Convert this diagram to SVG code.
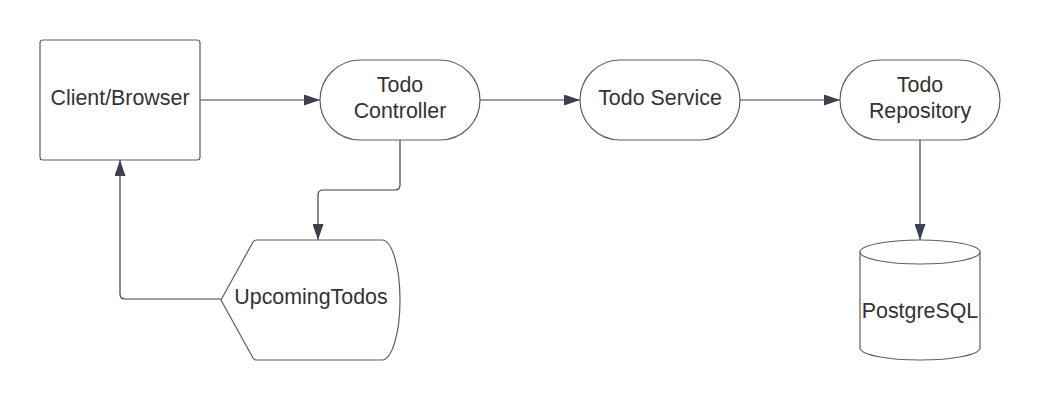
<svg xmlns="http://www.w3.org/2000/svg" width="1040" height="400" viewBox="0 0 1040 400">
<style>
.shape{fill:#ffffff;stroke:#5e5e5e;stroke-width:1.2}
.lbl{font-family:"Liberation Sans",Arial,sans-serif;font-size:21.4px;fill:#333333;text-anchor:middle}
.conn{fill:none;stroke:#3a414a;stroke-width:1.2}
</style>
<defs>
<marker id="arr" viewBox="0 0 16 11" refX="16" refY="5.5" markerWidth="16" markerHeight="11" markerUnits="userSpaceOnUse" orient="auto">
<path d="M0,0 L16,5.5 L0,11 Z" fill="#3a414a"/>
</marker>
</defs>
<rect width="1040" height="400" fill="#ffffff"/>
<g id="connectors">
<path class="conn" d="M200,100 L320,100" marker-end="url(#arr)"/>
<path class="conn" d="M480,100 L580,100" marker-end="url(#arr)"/>
<path class="conn" d="M740,100 L840,100" marker-end="url(#arr)"/>
<path class="conn" d="M920,140 L920,240" marker-end="url(#arr)"/>
<path class="conn" d="M400,140 L400,185 Q400,190 395,190 L323,190 Q318,190 318,195 L318,240" marker-end="url(#arr)"/>
<path class="conn" d="M221,299 L125,299 Q120,299 120,294 L120,160" marker-end="url(#arr)"/>
</g>
<g id="client">
<rect class="shape" x="40" y="40" width="160" height="120" rx="3"/>
<text class="lbl" x="120" y="104.5">Client/Browser</text>
</g>
<g id="controller">
<rect class="shape" x="320" y="60" width="160" height="80" rx="40"/>
<text class="lbl" x="400" y="91.5">Todo</text>
<text class="lbl" x="400" y="117.5">Controller</text>
</g>
<g id="service">
<rect class="shape" x="580" y="60" width="160" height="80" rx="40"/>
<text class="lbl" x="660" y="104.5">Todo Service</text>
</g>
<g id="repository">
<rect class="shape" x="840" y="60" width="160" height="80" rx="40"/>
<text class="lbl" x="920" y="91.5">Todo</text>
<text class="lbl" x="920" y="117.5">Repository</text>
</g>
<g id="upcoming">
<path class="shape" d="M221,300 L253,242 Q254,240 257,240 L382,240 A18,60 0 0 1 382,360 L257,360 Q254,360 253,358 Z"/>
<text class="lbl" x="311" y="304">UpcomingTodos</text>
</g>
<g id="postgres">
<path class="shape" d="M860,252 L860,348 A60,12 0 0 0 980,348 L980,252 A60,12 0 0 0 860,252 Z"/>
<path class="shape" d="M860,252 A60,12 0 0 0 980,252" fill="none"/>
<text class="lbl" x="920" y="318">PostgreSQL</text>
</g>
</svg>
